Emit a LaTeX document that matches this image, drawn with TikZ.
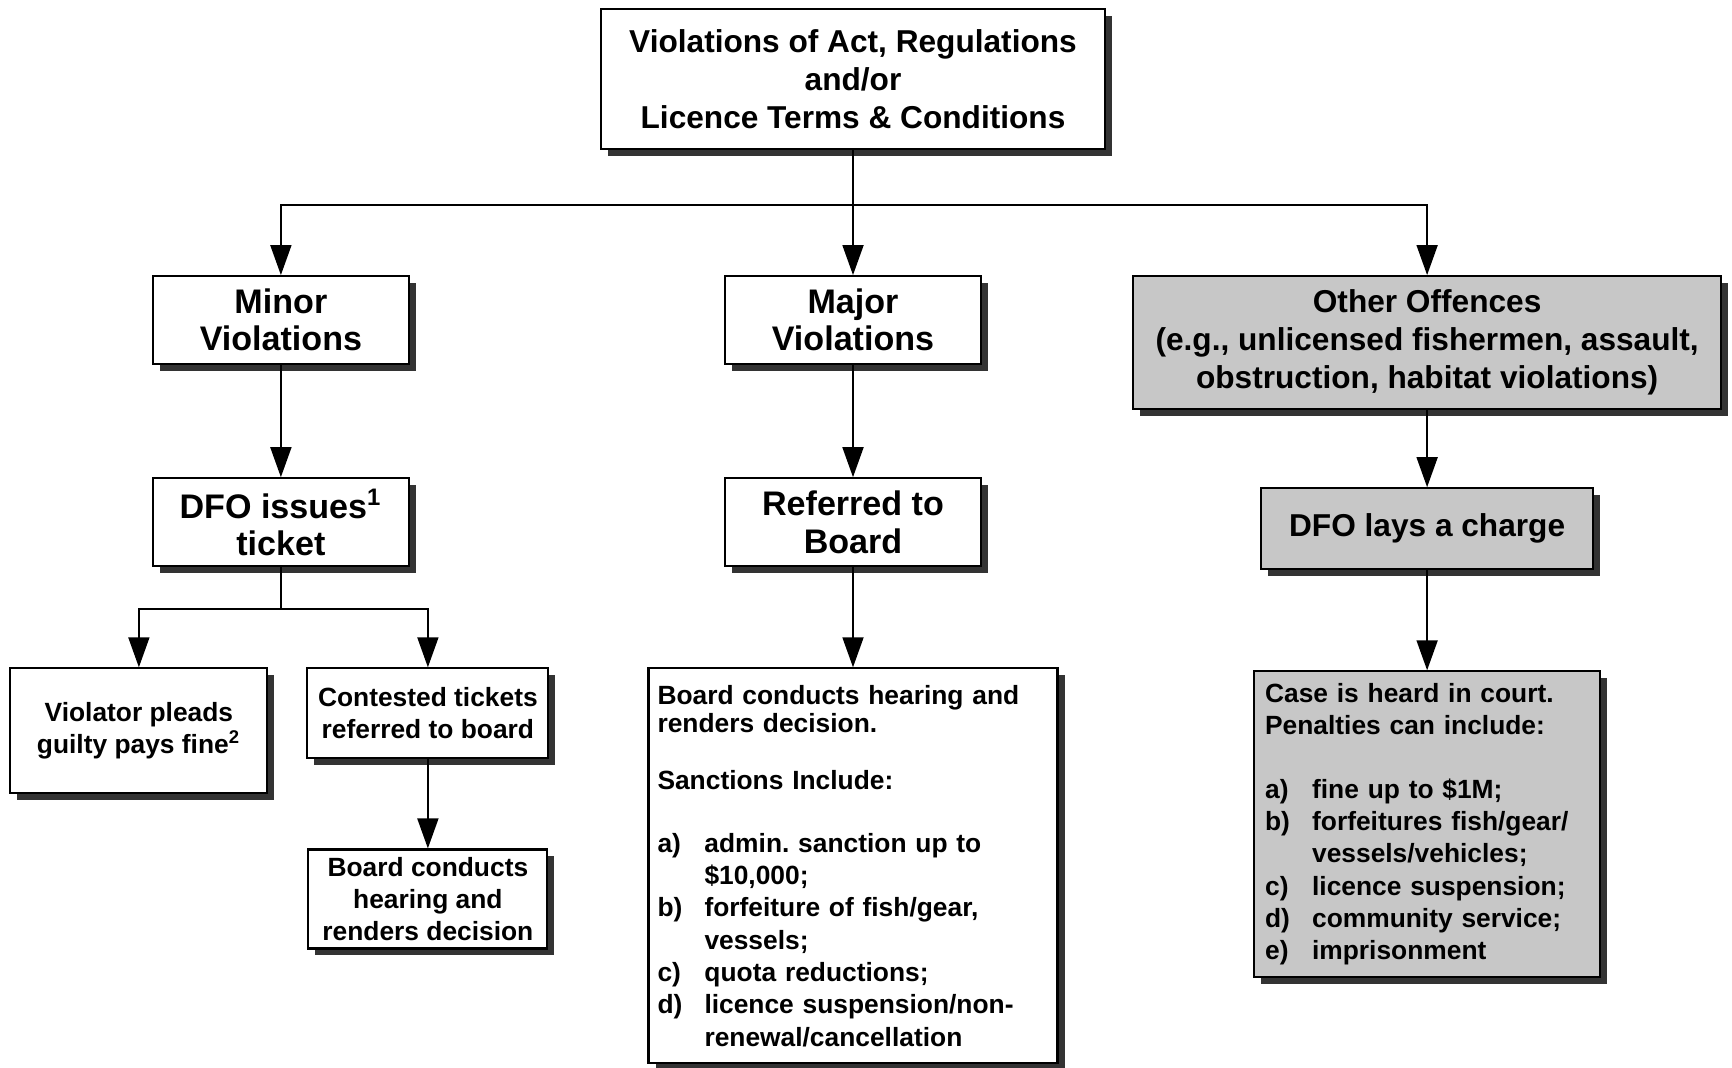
\documentclass[tikz,border=0pt]{standalone}
\usepackage{fontspec}
\setmainfont{Liberation Sans}
\usetikzlibrary{arrows.meta,positioning,shadows}

\newcommand{\itemrow}[2]{\makebox[4.7mm][l]{#1}#2}
\newcommand{\itemcont}{\hspace*{4.7mm}}

\begin{document}
\begin{tikzpicture}[
  node distance=1cm,
  box/.style={draw, line width=0.6pt, fill=white, align=center, inner sep=1pt, font=\bfseries,
    drop shadow={shadow xshift=0.07cm, shadow yshift=-0.07cm, fill=black!80, opacity=1}},
  head/.style={box, minimum width=2.56cm, minimum height=0.88cm, font=\fontsize{9.7}{10.6}\selectfont\bfseries},
  small/.style={box, font=\fontsize{7.5}{9.2}\selectfont\bfseries},
  grey/.style={fill=black!22},
  arrow/.style={-{Triangle[length=0.3cm,width=0.21cm]}, line width=0.5pt}
]
\useasboundingbox (0,0) rectangle (17.32,-10.67);

% top level
\node[box, minimum width=5.04cm, minimum height=1.40cm, font=\fontsize{9}{10.8}\selectfont\bfseries] (top) at (8.53,-0.79)
  {Violations of Act, Regulations\\and/or\\Licence Terms \& Conditions};

% three kinds of offence
\node[head, below=1.25cm of top] (major) {Major\\Violations};
\node[head, left=3.14cm of major] (minor) {Minor\\Violations};
\node[box, grey, minimum width=5.88cm, minimum height=1.33cm, font=\fontsize{9}{10.8}\selectfont\bfseries,
  below right=0cm and 1.50cm of major.north east] (other)
  {Other Offences\\(e.g., unlicensed fishermen, assault,\\obstruction, habitat violations)};

% second row
\node[head, below=1.12cm of minor] (ticket) {DFO issues\textsuperscript{1}\\ticket};
\node[head, below=1.12cm of major] (referred) {Referred to\\Board};
\node[box, grey, minimum width=3.32cm, minimum height=0.81cm, font=\fontsize{9}{10.8}\selectfont\bfseries,
  below=0.77cm of other] (charge) {DFO lays a charge};

% ticket outcomes
\node[small, minimum width=2.57cm, minimum height=1.25cm, below=1.0cm of ticket, xshift=-1.42cm] (guilty)
  {Violator pleads\\guilty pays fine\textsuperscript{2}};
\node[small, minimum width=2.41cm, minimum height=0.90cm, below=1.0cm of ticket, xshift=1.47cm] (contested)
  {Contested tickets\\referred to board};
\node[small, minimum width=2.39cm, minimum height=0.99cm, below=0.89cm of contested] (hearing)
  {Board conducts\\hearing and\\renders decision};

% board and court
\node[small, minimum width=4.09cm, minimum height=3.95cm, inner xsep=0.09cm, text width=3.91cm, align=left,
  below=1.0cm of referred] (board)
  {Board conducts hearing and\\[-1pt]renders decision.\\[7pt]
   Sanctions Include:\\[8.5pt]
   \itemrow{a)}{admin.\ sanction up to}\\\itemcont\$10,000;\\
   \itemrow{b)}{forfeiture of fish/gear,}\\\itemcont vessels;\\
   \itemrow{c)}{quota reductions;}\\
   \itemrow{d)}{licence suspension/non-}\\\itemcont renewal/cancellation};
\node[small, grey, minimum width=3.46cm, minimum height=3.06cm, inner xsep=0.11cm, text width=3.24cm, align=left,
  below=1.0cm of charge] (court)
  {Case is heard in court.\\Penalties can include:\\[8.8pt]
   \itemrow{a)}{fine up to \$1M;}\\
   \itemrow{b)}{forfeitures fish/gear/}\\\itemcont vessels/vehicles;\\
   \itemrow{c)}{licence suspension;}\\
   \itemrow{d)}{community service;}\\
   \itemrow{e)}{imprisonment}};

% connectors
\coordinate (split) at ([yshift=-0.55cm]top.south);
\draw[arrow] (top) -- (major);
\draw[arrow] (split) -| (minor.north);
\draw[arrow] (split) -| (other.north);

\draw[arrow] (minor) -- (ticket);
\draw[arrow] (major) -- (referred);
\draw[arrow] (other) -- (charge);

\coordinate (fork) at ([yshift=-0.42cm]ticket.south);
\draw[line width=0.5pt] (ticket.south) -- (fork);
\draw[arrow] (fork) -| (guilty.north);
\draw[arrow] (fork) -| (contested.north);
\draw[arrow] (contested) -- (hearing);

\draw[arrow] (referred) -- (board);
\draw[arrow] (charge) -- (court);
\end{tikzpicture}
\end{document}
